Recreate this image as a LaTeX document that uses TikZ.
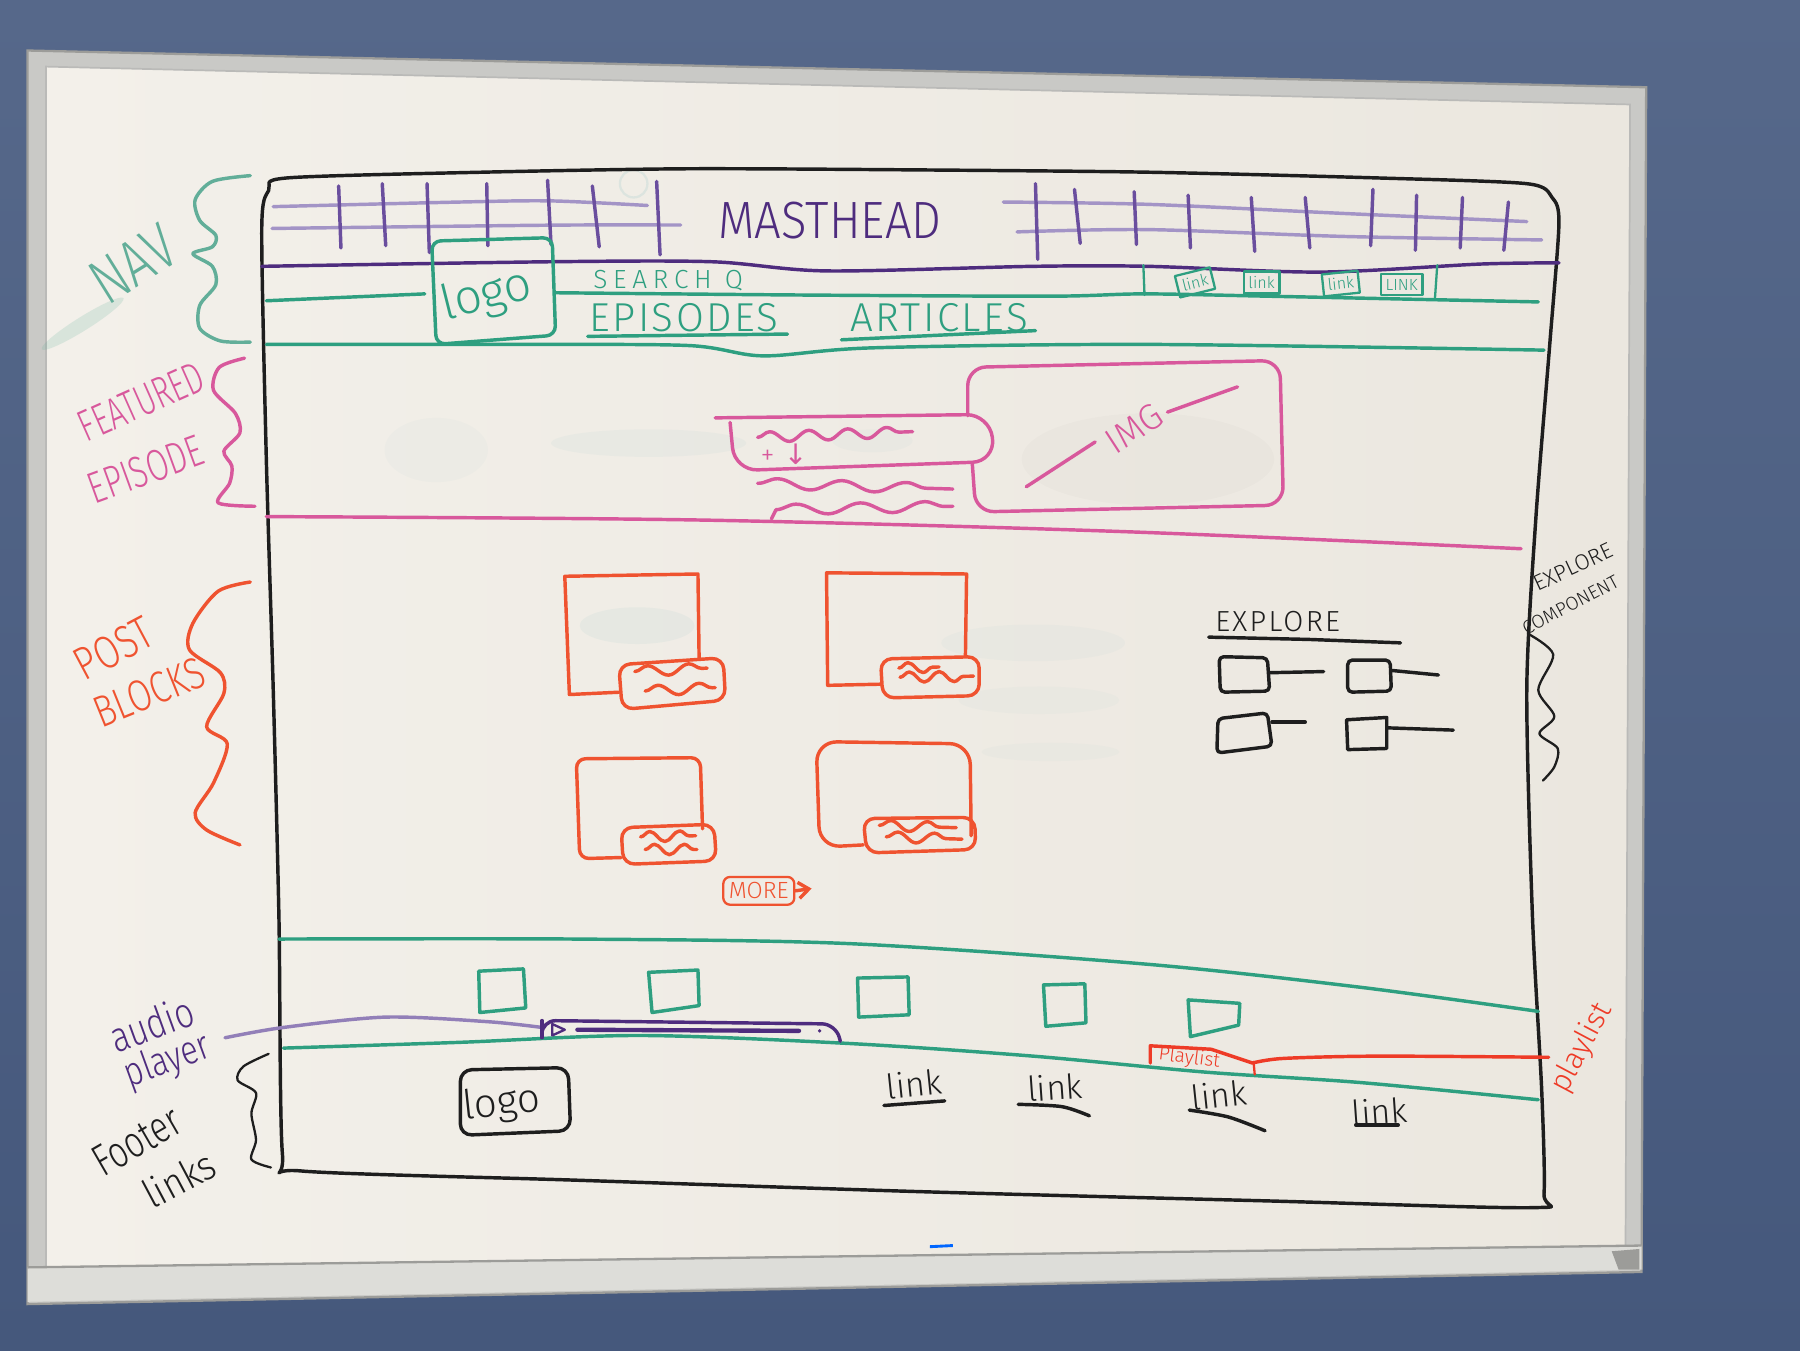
\documentclass[tikz,border=0pt]{standalone}
\usepackage{fontspec}
\setmainfont{Fira Sans}[UprightFont=* Light]
\newfontfamily\arrowfont{DejaVu Sans}
\usetikzlibrary{decorations.pathmorphing,arrows.meta}

\definecolor{walltop}{HTML}{56688A}
\definecolor{wallbot}{HTML}{45587C}
\definecolor{frameal}{HTML}{C9C9C6}
\definecolor{frameedge}{HTML}{9C9C99}
\definecolor{trayc}{HTML}{DDDDD9}
\definecolor{boardl}{HTML}{F3F0EA}
\definecolor{boardr}{HTML}{EBE7DF}
\definecolor{inkblack}{HTML}{1E1E1E}
\definecolor{inkpurple}{HTML}{4E2C7E}
\definecolor{inklilac}{HTML}{A394C6}
\definecolor{inkvio}{HTML}{6A4E9E}
\definecolor{inkteal}{HTML}{2E9F80}
\definecolor{inkpale}{HTML}{62AE99}
\definecolor{inkpink}{HTML}{D8589C}
\definecolor{inkorange}{HTML}{EF5330}
\definecolor{inkred}{HTML}{EE3B27}
\definecolor{ghost}{HTML}{8FC3C4}

\begin{document}
\begin{tikzpicture}[x=0.1mm,y=-0.1mm,
  mk/.style={line width=0.3mm,line cap=round,line join=round},
  thinmk/.style={line width=0.2mm,line cap=round,line join=round},
  hand/.style={inner sep=0pt,outer sep=0pt},
  squiggle/.style={mk,decorate,decoration={snake,segment length=#1,amplitude=0.45mm}},
  squiggle/.default=3mm,
  linkbox/.style={draw=inkteal,thinmk,inner sep=1.2pt,text=inkteal,font=\fontsize{4}{4.5}\selectfont},
  flink/.style={hand,text=inkblack,font=\fontsize{8.5}{9}\selectfont},
]
\useasboundingbox (0,0) rectangle (1568,1176);

% wall
\shade[top color=walltop,bottom color=wallbot] (0,0) rectangle (1568,1176);

% whiteboard: aluminium frame, surface, tray
\fill[frameal] (24,44) -- (1434,76) -- (1430,1108) -- (24,1136) -- cycle;
\draw[frameedge,line width=0.2mm] (24,44) -- (1434,76) -- (1430,1108) -- (24,1136) -- cycle;
\shade[left color=boardl,right color=boardr] (40,58) -- (1420,91) -- (1416,1087) -- (40,1106) -- cycle;
\draw[frameedge!70,line width=0.15mm] (40,58) -- (1420,91) -- (1416,1087) -- (40,1106) -- cycle;
\fill[trayc] (24,1104) -- (1430,1085) -- (1430,1106) -- (24,1134) -- cycle;
\draw[frameedge,line width=0.2mm] (24,1104) -- (1430,1085);
\fill[frameedge] (1404,1090) -- (1428,1088) -- (1428,1106) -- (1410,1106) -- cycle;
\draw[blue!60!cyan,line width=0.25mm] (810,1086) -- (830,1085);

% faint traces of earlier writing
\fill[inkpale,opacity=.18,rotate around={32:(72,282)}] (72,282) ellipse (42 and 6);
\fill[ghost,opacity=.05] (380,392) ellipse (45 and 28);
\fill[ghost,opacity=.08] (565,386) ellipse (85 and 12);
\fill[ghost,opacity=.06] (760,384) ellipse (35 and 10);
\fill[ghost,opacity=.10] (555,545) ellipse (50 and 16);
\fill[ghost,opacity=.06] (900,560) ellipse (80 and 16);
\fill[ghost,opacity=.05] (905,610) ellipse (70 and 12);
\fill[ghost,opacity=.05] (915,655) ellipse (60 and 8);
\fill[black,opacity=.015] (1000,400) ellipse (110 and 40);
\draw[ghost,opacity=.2,line width=0.2mm] (552,160) circle (12);

% ---------------- page outline ----------------
\draw[inkblack,mk] plot[smooth cycle,tension=0.45] coordinates {
  (250,155) (420,150) (600,147) (800,148) (1000,150) (1200,155) (1330,160)
  (1352,172) (1358,195) (1350,300) (1338,450) (1330,600) (1335,800)
  (1343,950) (1345,1040) (1335,1052) (1100,1046) (800,1038) (500,1028)
  (262,1020) (246,1005) (243,800) (238,600) (232,400) (228,200) (234,166)};

% ---------------- masthead ----------------
\draw[inklilac,mk] plot[smooth] coordinates {(238,180) (400,176) (480,175) (564,179)};
\draw[inklilac,mk] plot[smooth] coordinates {(237,199) (400,197) (500,196) (593,196)};
\foreach \xa/\ya/\xb/\yb in {295/162/297/216,333/160/336/214,372/160/374/220,
  424/160/425/214,477/157/480/213,516/162/522/215,572/158/575/222}
  \draw[inkvio,mk] (\xa,\ya) -- (\xb,\yb);
\draw[inklilac,mk] plot[smooth] coordinates {(874,176) (1000,178) (1172,186) (1330,193)};
\draw[inklilac,mk] plot[smooth] coordinates {(886,202) (1000,200) (1172,206) (1343,209)};
\foreach \xa/\ya/\xb/\yb in {902/160/904/226,936/165/941/212,988/167/990/213,
  1035/170/1037/216,1090/172/1093/219,1137/172/1141/216,1196/165/1194/214,
  1234/170/1233/218,1274/172/1272/216,1314/176/1310/218}
  \draw[inkvio,mk] (\xa,\ya) -- (\xb,\yb);
\node[hand,text=inkpurple,font=\fontsize{13}{14}\selectfont,xscale=.9] (masthead) at (723,192) {MASTHEAD};

% ---------------- navigation ----------------
\draw[inkpurple,mk] plot[smooth] coordinates {(228,232) (480,228) (620,228) (720,236)
  (900,232) (1000,232) (1150,237) (1290,230) (1358,229)};
\draw[inkteal,mk] plot[smooth] coordinates {(232,262) (300,259) (370,256)};
\draw[inkteal,mk] plot[smooth] coordinates {(484,255) (700,257) (915,258) (996,256)
  (1104,258) (1340,263)};
\draw[inkteal,mk] plot[smooth] coordinates {(232,300) (450,300) (600,301) (665,310)
  (760,303) (1000,300) (1345,305)};
% logo block
\draw[inkteal,mk,rounded corners=0.8mm] (376,210) -- (481,207) -- (484,292) -- (380,300) -- cycle;
\node[hand,text=inkteal,font=\fontsize{12}{13}\selectfont,rotate=14] (navlogo) at (424,258) {logo};
% search and section links
\node[hand,text=inkteal,font=\fontsize{6.5}{7}\selectfont\addfontfeature{LetterSpace=22}] (search) at (582,244) {SEARCH Q};
\node[hand,text=inkteal,font=\fontsize{10}{11}\selectfont\addfontfeature{LetterSpace=6}] (episodes) at (596,277) {EPISODES};
\node[hand,text=inkteal,font=\fontsize{10}{11}\selectfont\addfontfeature{LetterSpace=6}] (articles) at (818,277) {ARTICLES};
\draw[inkteal,mk] (512,293) -- (686,291);
\draw[inkteal,mk] (733,296) -- (902,288);
% utility links
\draw[inkteal,thinmk] (996,231) -- (997,257);
\draw[inkteal,thinmk] (1252,231) -- (1250,260);
\node[linkbox,rotate=14] (lk1) at (1041,246) {link};
\node[linkbox] (lk2) at (1099,246) {link};
\node[linkbox,rotate=6] (lk3) at (1168,247) {link};
\node[linkbox] (lk4) at (1221,248) {LINK};

% ---------------- featured episode ----------------
\draw[inkpink,mk,rounded corners=1.6mm] (843,362) -- (843,320) -- (1115,314) -- (1118,440) -- (850,446) -- (847,404);
\draw[inkpink,mk] (894,424) -- (954,385);
\node[hand,text=inkpink,font=\fontsize{9}{10}\selectfont,rotate=33] (img) at (988,373) {IMG};
\draw[inkpink,mk] (1017,359) -- (1078,337);
\draw[inkpink,mk,rounded corners=2mm] (623,364) -- (862,361) -- (867,402) -- (640,410) -- (636,368);
\draw[inkpink,squiggle=3.4mm] (660,381) -- (795,376);
\node[hand,text=inkpink,font=\fontsize{7}{8}\selectfont] (ctrl) at (683,396) {+\,\,{\arrowfont ↓}};
\draw[inkpink,squiggle=5.6mm] (660,421) -- (830,426);
\draw[inkpink,mk] (672,452) -- (676,444);
\draw[inkpink,squiggle=5.6mm] (676,444) -- (830,441);
\draw[inkpink,mk] plot[smooth] coordinates {(232,450) (610,453) (976,463) (1325,478)};

% ---------------- post blocks ----------------
\begin{scope}[inkorange]
  % block 1
  \draw[mk] (539,603) -- (496,605) -- (492,502) -- (608,500) -- (609,574);
  \draw[mk,rounded corners=1mm] (539,579) -- (630,573) -- (632,610) -- (542,618) -- cycle;
  \draw[squiggle=3.6mm] (553,585) -- (616,582);
  \draw[squiggle=3.6mm] (562,602) -- (623,599);
  % block 2
  \draw[mk] (767,596) -- (721,597) -- (720,499) -- (842,500) -- (841,571);
  \draw[mk,rounded corners=1mm] (767,574) -- (853,572) -- (853,606) -- (769,608) -- cycle;
  \draw[squiggle=2.6mm] (783,582) -- (818,581);
  \draw[squiggle=2.6mm] (784,590) -- (848,589);
  % block 3
  \draw[mk,rounded corners=0.8mm] (541,747) -- (505,748) -- (502,661) -- (610,660) -- (612,722);
  \draw[mk,rounded corners=1mm] (541,721) -- (622,718) -- (624,750) -- (543,753) -- cycle;
  \draw[squiggle=2.6mm] (558,729) -- (606,728);
  \draw[squiggle=2.6mm] (562,740) -- (607,740);
  % block 4
  \draw[mk,rounded corners=1.8mm] (752,736) -- (714,738) -- (711,646) -- (845,648) -- (846,728);
  \draw[mk,rounded corners=1mm] (752,713) -- (849,712) -- (850,740) -- (755,743) -- cycle;
  \draw[squiggle=3.2mm] (766,719) -- (833,721);
  \draw[squiggle=3.2mm] (772,729) -- (838,731);
  % more
  \node[draw=inkorange,thinmk,rounded corners=0.6mm,inner sep=1.4pt,text=inkorange,
        font=\fontsize{5.8}{6}\selectfont] (more) at (661,776) {MORE};
  \draw[mk,-{Straight Barb[length=0.9mm,width=1.4mm]}] (more.east) -- (707,774);
\end{scope}

% ---------------- explore ----------------
\node[hand,text=inkblack,font=\fontsize{7.2}{8}\selectfont\addfontfeature{LetterSpace=8}] (explore) at (1113,541) {EXPLORE};
\draw[inkblack,mk] (1053,555) -- (1140,557) -- (1220,560);
\draw[inkblack,mk,rounded corners=0.4mm] (1062,572) -- (1104,573) -- (1106,602) -- (1063,603) -- cycle;
\draw[inkblack,mk] (1106,586) -- (1153,585);
\draw[inkblack,mk,rounded corners=0.4mm] (1174,575) -- (1211,575) -- (1212,602) -- (1174,603) -- cycle;
\draw[inkblack,mk] (1212,584) -- (1253,588);
\draw[inkblack,mk,rounded corners=0.4mm] (1061,626) -- (1104,621) -- (1108,650) -- (1060,656) -- cycle;
\draw[inkblack,mk] (1108,629) -- (1137,629);
\draw[inkblack,mk] (1173,627) -- (1208,625) -- (1208,652) -- (1174,653) -- cycle;
\draw[inkblack,mk] (1208,634) -- (1266,636);
\node[hand,text=inkblack,font=\fontsize{5.5}{6}\selectfont,rotate=25] (explab1) at (1370,494) {EXPLORE};
\node[hand,text=inkblack,font=\fontsize{4.7}{5}\selectfont,rotate=28] (explab2) at (1368,527) {COMPONENT};
\draw[inkblack,thinmk] plot[smooth] coordinates {(1331,552) (1353,570) (1340,601)
  (1354,624) (1341,639) (1357,652) (1354,668) (1344,680)};

% ---------------- footer area ----------------
\draw[inkteal,mk] plot[smooth] coordinates {(243,818) (500,818) (740,822) (1000,840) (1185,860) (1340,881)};
\draw[inkteal,mk] plot[smooth] coordinates {(247,913) (400,908) (558,902) (740,909)
  (900,920) (1051,934) (1185,943) (1340,958)};
\draw[inkteal,mk] (417,846) -- (456,844) -- (458,878) -- (418,882) -- cycle;
\draw[inkteal,mk] (565,847) -- (608,845) -- (609,876) -- (568,882) -- cycle;
\draw[inkteal,mk] (747,852) -- (791,851) -- (792,884) -- (748,886) -- cycle;
\draw[inkteal,mk] (909,858) -- (945,857) -- (946,891) -- (911,894) -- cycle;
\draw[inkteal,mk] (1035,871) -- (1080,874) -- (1079,893) -- (1037,903) -- cycle;

% audio player
\node[hand,text=inkpurple,font=\fontsize{10.5}{11}\selectfont,rotate=20,xscale=.8] (audio) at (132,892) {audio};
\node[hand,text=inkpurple,font=\fontsize{10}{11}\selectfont,rotate=20,xscale=.8] (player) at (146,925) {player};
\coordinate (pl) at (472,895);
\draw[inklilac!80!inkpurple,mk] plot[smooth] coordinates {(196,904) (247,895) (336,886) (425,890) (472,895)};
\draw[inkpurple,mk,rounded corners=1.2mm] (pl) -- (472,889) -- (728,892) -- (732,907);
\draw[inkpurple,mk] (472,889) -- (472,904);
\draw[inkpurple,thinmk] (481,892) -- (481,902) -- (492,897) -- cycle;
\draw[inkpurple,line width=0.38mm,line cap=round] (503,897) -- (696,898);
\fill[inkpurple] (714,898) circle (1.6);

% footer links
\draw[inkblack,mk,rounded corners=1mm] (401,932) -- (495,930) -- (497,985) -- (401,989) -- cycle;
\node[hand,text=inkblack,font=\fontsize{10}{11}\selectfont,rotate=6] (flogo) at (437,962) {logo};
\node[flink,rotate=6] (fl1) at (796,944) {link};
\draw[inkblack,mk] (770,963) -- (823,959);
\node[flink,rotate=4] (fl2) at (919,947) {link};
\draw[inkblack,mk] plot[smooth] coordinates {(887,962) (925,964) (949,972)};
\node[flink,rotate=6] (fl3) at (1062,954) {link};
\draw[inkblack,mk] plot[smooth] coordinates {(1036,967) (1070,973) (1102,985)};
\node[flink,rotate=4] (fl4) at (1202,968) {link};
\draw[inkblack,mk] (1181,980) -- (1218,980);

% playlist
\draw[inkred,mk] (1002,926) -- (1002,911) -- (1055,914) -- (1091,926);
\draw[inkred,thinmk] (1092,925) -- (1093,936);
\node[hand,text=inkred,font=\fontsize{4.8}{5}\selectfont,rotate=-7] (plbox) at (1036,922) {Playlist};
\node[hand,text=inkred,font=\fontsize{7.5}{8}\selectfont,rotate=62] (pllab) at (1378,913) {playlist};
\draw[inkred,mk] plot[smooth] coordinates {(1091,926) (1118,922) (1200,920) (1349,921)};

% ---------------- section braces and labels ----------------
\draw[inkpale,mk] plot[smooth] coordinates {(218,153) (185,158) (170,174) (174,192)
  (188,205) (185,215) (168,221) (185,232) (188,248) (174,266) (174,286) (192,297) (218,298)};
\node[hand,text=inkpale,font=\fontsize{16}{17}\selectfont,rotate=32,xscale=.78] (navlab) at (116,230) {NAV};

\draw[inkpink,mk] plot[smooth] coordinates {(213,312) (191,320) (186,340) (205,360)
  (209,377) (195,393) (202,406) (200,421) (190,438) (222,441)};
\node[hand,text=inkpink,font=\fontsize{11}{12}\selectfont,rotate=24,xscale=.68] (featlab) at (123,350) {FEATURED};
\node[hand,text=inkpink,font=\fontsize{11}{12}\selectfont,rotate=20,xscale=.72] (epilab) at (127,409) {EPISODE};

\draw[inkorange,mk] plot[smooth] coordinates {(218,507) (190,515) (168,543) (165,566) (192,586)
  (195,604) (180,633) (198,648) (186,682) (170,708) (180,723) (209,736)};
\node[hand,text=inkorange,font=\fontsize{11.5}{12}\selectfont,rotate=28,xscale=.78] (postlab) at (99,565) {POST};
\node[hand,text=inkorange,font=\fontsize{11}{12}\selectfont,rotate=22,xscale=.78] (blocklab) at (130,603) {BLOCKS};

\draw[inkblack,thinmk] plot[smooth] coordinates {(234,918) (212,929) (207,941) (223,952)
  (219,970) (223,993) (219,1010) (236,1017)};
\node[hand,text=inkblack,font=\fontsize{11}{12}\selectfont,rotate=30,xscale=.75] (footlab) at (119,994) {Footer};
\node[hand,text=inkblack,font=\fontsize{10}{11}\selectfont,rotate=28,xscale=.9] (linklab) at (156,1027) {links};
\end{tikzpicture}
\end{document}
